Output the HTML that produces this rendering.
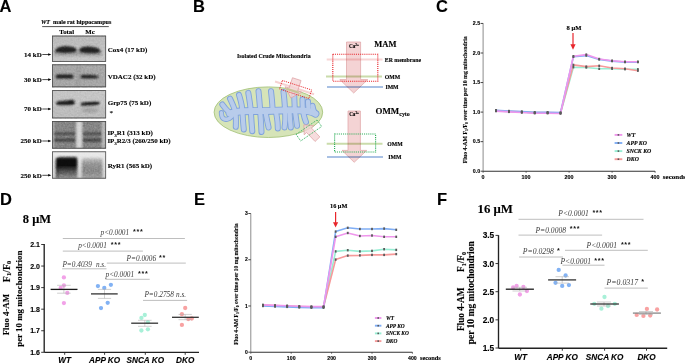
<!DOCTYPE html>
<html><head><meta charset="utf-8"><style>
html,body{margin:0;padding:0;background:#fff;}
body{width:685px;height:364px;overflow:hidden;font-family:"Liberation Sans",sans-serif;}
svg{display:block;will-change:transform;}
text{stroke:#000;stroke-width:0.22px;stroke-opacity:0.55;}
</style></head><body>
<svg width="685" height="364" viewBox="0 0 685 364">
<defs>
<clipPath id="blotclip"><rect x="52" y="35.7" width="54" height="26.1"/><rect x="52" y="64.4" width="54" height="22.8"/><rect x="52" y="90.2" width="54" height="28.1"/><rect x="52" y="121.1" width="54" height="27.5"/><rect x="52" y="151.4" width="54" height="27.2"/></clipPath>
<filter id="noise" x="0" y="0" width="100%" height="100%" color-interpolation-filters="sRGB"><feTurbulence type="fractalNoise" baseFrequency="0.55" numOctaves="2" seed="3"/><feColorMatrix type="matrix" values="0.33 0.33 0.33 0 0  0.33 0.33 0.33 0 0  0.33 0.33 0.33 0 0  0 0 0 0 1"/></filter>
<filter id="blur1" x="-20%" y="-50%" width="140%" height="200%"><feGaussianBlur stdDeviation="0.9"/></filter>
<linearGradient id="g1" x1="0" y1="0" x2="0" y2="1"><stop offset="0" stop-color="#bababa"/><stop offset="1" stop-color="#c6c6c6"/></linearGradient>
<linearGradient id="g5" x1="0" y1="0" x2="0" y2="1"><stop offset="0" stop-color="#ececec"/><stop offset="0.5" stop-color="#dedede"/><stop offset="1" stop-color="#d0d0d0"/></linearGradient>
<linearGradient id="g6" x1="0" y1="0" x2="0" y2="1"><stop offset="0" stop-color="#2a2a2a"/><stop offset="0.15" stop-color="#0c0c0c"/><stop offset="0.4" stop-color="#101010"/><stop offset="0.62" stop-color="#4a4a4a"/><stop offset="0.85" stop-color="#7c7c7c"/><stop offset="1" stop-color="#a0a0a0"/></linearGradient>
<linearGradient id="g7" x1="0" y1="0" x2="0" y2="1"><stop offset="0" stop-color="#c4c4c4"/><stop offset="0.3" stop-color="#929292"/><stop offset="0.65" stop-color="#888888"/><stop offset="1" stop-color="#a4a4a4"/></linearGradient>
</defs>
<text x="-0.5" y="11.8" font-family="Liberation Sans" font-size="16.5" font-weight="bold" font-style="normal" text-anchor="start" fill="#000" >A</text>
<text x="193" y="12" font-family="Liberation Sans" font-size="16.5" font-weight="bold" font-style="normal" text-anchor="start" fill="#000" >B</text>
<text x="436" y="12.1" font-family="Liberation Sans" font-size="16.5" font-weight="bold" font-style="normal" text-anchor="start" fill="#000" >C</text>
<text x="0" y="204.8" font-family="Liberation Sans" font-size="16.5" font-weight="bold" font-style="normal" text-anchor="start" fill="#000" >D</text>
<text x="194" y="204.8" font-family="Liberation Sans" font-size="16.5" font-weight="bold" font-style="normal" text-anchor="start" fill="#000" >E</text>
<text x="437" y="204.8" font-family="Liberation Sans" font-size="16.5" font-weight="bold" font-style="normal" text-anchor="start" fill="#000" >F</text>
<text x="40.9" y="24.3" font-family="Liberation Serif" font-size="6.1" font-weight="bold"><tspan font-style="italic">WT</tspan>&#160; male rat hippocampus</text>
<line x1="42.2" y1="26.6" x2="108.8" y2="26.6" stroke="#222" stroke-width="0.8" />
<text x="59.3" y="34.3" font-family="Liberation Serif" font-size="6.8" font-weight="bold" font-style="normal" text-anchor="start" fill="#000" >Total</text>
<text x="85.3" y="34.3" font-family="Liberation Serif" font-size="6.8" font-weight="bold" font-style="normal" text-anchor="start" fill="#000" >Mc</text>
<rect x="52" y="35.7" width="54" height="26.1" fill="url(#g1)"/>
<rect x="52" y="64.4" width="54" height="22.8" fill="#a7a7a7"/>
<rect x="52" y="90.2" width="54" height="28.1" fill="#c5c5c5"/>
<rect x="52" y="121.1" width="54" height="27.5" fill="#858585"/>
<rect x="52" y="151.4" width="54" height="27.2" fill="url(#g5)"/>
<g clip-path="url(#blotclip)"><g filter="url(#blur1)">
<rect x="54" y="50" width="48" height="6" fill="#8a8a8a" opacity="0.55"/>
<path d="M55 51.6 C55 48 60 46.4 66 46.3 C72 46.3 76.8 47.6 76.8 50.6 C76.8 52.8 73 53.2 66 53.2 C59 53.2 55 53.4 55 51.6 Z" fill="#242424"/>
<path d="M79.2 50.5 C79.2 47.4 83 46.4 89 46.5 C95 46.8 100.6 48.6 100.6 51.4 C100.6 53.3 95 53.5 89 53.4 C83 53.4 79.2 53 79.2 50.5 Z" fill="#222"/>
<rect x="77" y="64.4" width="3" height="22.8" fill="#9c9c9c"/>
<rect x="55.8" y="74.6" width="17.8" height="4" rx="2" fill="#1f1f1f"/>
<path d="M80 76.5 C80 74.6 84 74.6 89 74.8 C94 75 99 75.6 99 77 C99 78.4 94 78.6 89 78.6 C84 78.6 80 78.4 80 76.5 Z" fill="#242424"/>
<path d="M56 103.3 C56 101.3 60 100.8 65 100.7 C69 100.6 71 99.2 73 99.9 C75.2 100.8 75.2 103.6 74 104.8 C72 105.6 66 105.6 61 105.6 C57.5 105.6 56 104.8 56 103.3 Z" fill="#1a1a1a"/>
<path d="M80.5 104.5 C80.5 102.5 84 102.3 90 102 C95 101.8 98 101.2 99.5 102.5 C100.5 104 99 105.3 96 105.4 C90 105.6 84 106.3 82 106.2 C80.8 106 80.5 105.4 80.5 104.5 Z" fill="#151515"/>
<rect x="52" y="106" width="54" height="12" fill="#b8b8b8" opacity="0.6"/>
<ellipse cx="90" cy="110.4" rx="8.5" ry="2.6" fill="#a4a4a4"/>
<rect x="52" y="121" width="1.8" height="27.6" fill="#c4c4c4"/>
<rect x="101.8" y="121" width="3.6" height="27.6" fill="#bdbdbd"/>
<rect x="53.5" y="132.3" width="23" height="3" fill="#4e4e4e"/>
<rect x="82" y="132.3" width="20" height="3" fill="#4e4e4e"/>
<rect x="53.5" y="138.5" width="23" height="3.3" fill="#444"/>
<rect x="82" y="138.5" width="20" height="3.3" fill="#444"/>
<rect x="76.2" y="121" width="6" height="27.6" fill="#d6d6d6"/>
<path d="M55.8 160 C55.8 157.5 58 157 62 157 L75 157 C77 157 77.3 158 77.3 160 L77.3 179 L55.8 179 Z" fill="url(#g6)"/>
<rect x="56" y="158" width="2.2" height="20" fill="#000" opacity="0.35"/>
<path d="M81.8 160 C81.8 158.5 83 158 85 158 L100 158 C102 158 102.4 159 102.4 160.5 L102.4 179 L81.8 179 Z" fill="url(#g7)"/>
</g></g>
<rect x="52" y="35.7" width="54" height="26.099999999999994" fill="#808080" filter="url(#noise)" opacity="0.35" style="mix-blend-mode:overlay"/>
<rect x="52" y="64.4" width="54" height="22.799999999999997" fill="#808080" filter="url(#noise)" opacity="0.35" style="mix-blend-mode:overlay"/>
<rect x="52" y="90.2" width="54" height="28.099999999999994" fill="#808080" filter="url(#noise)" opacity="0.35" style="mix-blend-mode:overlay"/>
<rect x="52" y="121.1" width="54" height="27.5" fill="#808080" filter="url(#noise)" opacity="0.35" style="mix-blend-mode:overlay"/>
<rect x="52" y="151.4" width="54" height="27.19999999999999" fill="#808080" filter="url(#noise)" opacity="0.35" style="mix-blend-mode:overlay"/>
<rect x="52.4" y="36.1" width="53.3" height="25.299999999999994" fill="none" stroke="#4a4a4a" stroke-width="0.8"/>
<rect x="52.4" y="64.80000000000001" width="53.3" height="21.999999999999996" fill="none" stroke="#4a4a4a" stroke-width="0.8"/>
<rect x="52.4" y="90.60000000000001" width="53.3" height="27.299999999999994" fill="none" stroke="#4a4a4a" stroke-width="0.8"/>
<rect x="52.4" y="121.5" width="53.3" height="26.7" fill="none" stroke="#4a4a4a" stroke-width="0.8"/>
<rect x="52.4" y="151.8" width="53.3" height="26.399999999999988" fill="none" stroke="#4a4a4a" stroke-width="0.8"/>
<text x="41.8" y="56.9" font-family="Liberation Serif" font-size="7" font-weight="bold" font-style="normal" text-anchor="end" fill="#000" >14 kD</text>
<line x1="42.3" y1="54.5" x2="49.5" y2="54.5" stroke="#000" stroke-width="0.7" />
<path d="M48.2 53.2 L51.3 54.5 L48.2 55.8 Z" fill="#000"/>
<text x="41.8" y="82.0" font-family="Liberation Serif" font-size="7" font-weight="bold" font-style="normal" text-anchor="end" fill="#000" >30 kD</text>
<line x1="42.3" y1="79.6" x2="49.5" y2="79.6" stroke="#000" stroke-width="0.7" />
<path d="M48.2 78.3 L51.3 79.6 L48.2 80.89999999999999 Z" fill="#000"/>
<text x="41.8" y="111.4" font-family="Liberation Serif" font-size="7" font-weight="bold" font-style="normal" text-anchor="end" fill="#000" >70 kD</text>
<line x1="42.3" y1="109" x2="49.5" y2="109" stroke="#000" stroke-width="0.7" />
<path d="M48.2 107.7 L51.3 109 L48.2 110.3 Z" fill="#000"/>
<text x="41.8" y="143.4" font-family="Liberation Serif" font-size="7" font-weight="bold" font-style="normal" text-anchor="end" fill="#000" >250 kD</text>
<line x1="42.3" y1="141" x2="49.5" y2="141" stroke="#000" stroke-width="0.7" />
<path d="M48.2 139.7 L51.3 141 L48.2 142.3 Z" fill="#000"/>
<text x="41.8" y="177.70000000000002" font-family="Liberation Serif" font-size="7" font-weight="bold" font-style="normal" text-anchor="end" fill="#000" >250 kD</text>
<line x1="42.3" y1="175.3" x2="49.5" y2="175.3" stroke="#000" stroke-width="0.7" />
<path d="M48.2 174.0 L51.3 175.3 L48.2 176.60000000000002 Z" fill="#000"/>
<text x="107.7" y="51.6" font-family="Liberation Serif" font-size="7" font-weight="bold" font-style="normal" text-anchor="start" fill="#000" >Cox4 (17 kD)</text>
<text x="107.7" y="79" font-family="Liberation Serif" font-size="7" font-weight="bold" font-style="normal" text-anchor="start" fill="#000" >VDAC2 (32 kD)</text>
<text x="107.7" y="105.4" font-family="Liberation Serif" font-size="7" font-weight="bold" font-style="normal" text-anchor="start" fill="#000" >Grp75 (75 kD)</text>
<text x="109.5" y="114.5" font-family="Liberation Serif" font-size="7" font-weight="normal" font-style="normal" text-anchor="start" fill="#000" >*</text>
<text x="107.4" y="135.2" font-family="Liberation Serif" font-size="7" font-weight="bold">IP<tspan font-size="4.5" dy="1.5">3</tspan><tspan dy="-1.5">R1 (313 kD)</tspan></text>
<text x="107.4" y="143.4" font-family="Liberation Serif" font-size="7" font-weight="bold">IP<tspan font-size="4.5" dy="1.5">3</tspan><tspan dy="-1.5">R2/3 (260/250 kD)</tspan></text>
<text x="107.7" y="168.3" font-family="Liberation Serif" font-size="7" font-weight="bold" font-style="normal" text-anchor="start" fill="#000" >RyR1 (565 kD)</text>
<text x="237" y="58.2" font-family="Liberation Serif" font-size="5.9" font-weight="bold" font-style="normal" text-anchor="start" fill="#000" >Isolated Crude Mitochondria</text>
<ellipse cx="268.4" cy="112.2" rx="54.3" ry="25.3" fill="#d6e4b8" stroke="#9fbf72" stroke-width="0.8"/>
<g>
<path d="M229.5 113.5 Q235 111.5 242.50 111.25 Q250 111 257.50 111.10 Q265 111.2 272.50 110.85 Q280 110.5 287.50 110.35 Q295 110.2 300.00 110.40 Q305 110.6 308.50 111.30 Q312 112 313.75 112.90 L315.5 113.8" stroke="#7fa2dc" stroke-width="7.8" fill="none" stroke-linecap="round" stroke-linejoin="round"/>
<path d="M221.4 112.6 Q221.6 117.2 223.20 118.40 Q224.8 119.6 227.15 119.20 Q229.5 118.8 231.00 117.15 L232.5 115.5" stroke="#7fa2dc" stroke-width="5.2" fill="none" stroke-linecap="round" stroke-linejoin="round"/>
<path d="M222.3 104.4 Q226.0 109.5 228.50 111.65 L231.0 113.8" stroke="#7fa2dc" stroke-width="6.0" fill="none" stroke-linecap="round" stroke-linejoin="round"/>
<path d="M230.0 98.6 Q233.0 105 234.25 108.50 Q235.5 112 235.75 116.00 Q236.0 120 235.90 123.40 L235.8 126.8" stroke="#7fa2dc" stroke-width="6.0" fill="none" stroke-linecap="round" stroke-linejoin="round"/>
<path d="M239.0 94.9 Q241.5 103 242.00 107.50 Q242.5 112 242.75 116.50 Q243.0 121 243.40 125.25 L243.8 129.5" stroke="#7fa2dc" stroke-width="6.0" fill="none" stroke-linecap="round" stroke-linejoin="round"/>
<path d="M248.3 92.9 Q250.0 103 250.50 108.00 Q251.0 113 251.25 117.50 Q251.5 122 251.90 126.60 L252.3 131.2" stroke="#7fa2dc" stroke-width="6.0" fill="none" stroke-linecap="round" stroke-linejoin="round"/>
<path d="M258.5 91.2 Q259.5 101 259.85 106.50 Q260.2 112 260.60 117.00 Q261.0 122 261.25 127.00 L261.5 132.0" stroke="#7fa2dc" stroke-width="6.0" fill="none" stroke-linecap="round" stroke-linejoin="round"/>
<path d="M271.0 91.2 Q272.0 100 272.25 104.00 L272.5 108" stroke="#7fa2dc" stroke-width="6.0" fill="none" stroke-linecap="round" stroke-linejoin="round"/>
<path d="M265.5 112 Q267.0 120 267.80 123.75 L268.6 127.5" stroke="#7fa2dc" stroke-width="6.0" fill="none" stroke-linecap="round" stroke-linejoin="round"/>
<path d="M283.5 92.0 Q284.5 100 284.75 105.00 Q285.0 110 285.25 115.00 Q285.5 120 285.00 123.75 L284.5 127.5" stroke="#7fa2dc" stroke-width="6.0" fill="none" stroke-linecap="round" stroke-linejoin="round"/>
<path d="M276.0 112 Q277.5 120 277.65 124.25 L277.8 128.5" stroke="#7fa2dc" stroke-width="6.0" fill="none" stroke-linecap="round" stroke-linejoin="round"/>
<path d="M294.2 95.5 Q294.5 103 294.65 106.50 Q294.8 110 295.40 114.00 Q296.0 118 296.50 121.90 L297.0 125.8" stroke="#7fa2dc" stroke-width="6.0" fill="none" stroke-linecap="round" stroke-linejoin="round"/>
<path d="M302.5 99.3 Q302.5 105 302.75 108.00 Q303.0 111 303.75 114.50 Q304.5 118 305.25 120.00 L306.0 122.0" stroke="#7fa2dc" stroke-width="6.0" fill="none" stroke-linecap="round" stroke-linejoin="round"/>
<path d="M308.0 101.6 Q308.2 106 308.60 109.00 L309.0 112" stroke="#7fa2dc" stroke-width="6.0" fill="none" stroke-linecap="round" stroke-linejoin="round"/>
<path d="M312.5 105.8 Q313.2 110 314.20 111.80 L315.2 113.6" stroke="#7fa2dc" stroke-width="6.0" fill="none" stroke-linecap="round" stroke-linejoin="round"/>
<path d="M289.5 112 Q290.0 120 290.40 123.75 L290.8 127.5" stroke="#7fa2dc" stroke-width="6.0" fill="none" stroke-linecap="round" stroke-linejoin="round"/>
<path d="M229.5 113.5 Q235 111.5 242.50 111.25 Q250 111 257.50 111.10 Q265 111.2 272.50 110.85 Q280 110.5 287.50 110.35 Q295 110.2 300.00 110.40 Q305 110.6 308.50 111.30 Q312 112 313.75 112.90 L315.5 113.8" stroke="#b8cceb" stroke-width="6.0" fill="none" stroke-linecap="round" stroke-linejoin="round"/>
<path d="M221.4 112.6 Q221.6 117.2 223.20 118.40 Q224.8 119.6 227.15 119.20 Q229.5 118.8 231.00 117.15 L232.5 115.5" stroke="#b8cceb" stroke-width="3.4" fill="none" stroke-linecap="round" stroke-linejoin="round"/>
<path d="M222.3 104.4 Q226.0 109.5 228.50 111.65 L231.0 113.8" stroke="#b8cceb" stroke-width="4.2" fill="none" stroke-linecap="round" stroke-linejoin="round"/>
<path d="M230.0 98.6 Q233.0 105 234.25 108.50 Q235.5 112 235.75 116.00 Q236.0 120 235.90 123.40 L235.8 126.8" stroke="#b8cceb" stroke-width="4.2" fill="none" stroke-linecap="round" stroke-linejoin="round"/>
<path d="M239.0 94.9 Q241.5 103 242.00 107.50 Q242.5 112 242.75 116.50 Q243.0 121 243.40 125.25 L243.8 129.5" stroke="#b8cceb" stroke-width="4.2" fill="none" stroke-linecap="round" stroke-linejoin="round"/>
<path d="M248.3 92.9 Q250.0 103 250.50 108.00 Q251.0 113 251.25 117.50 Q251.5 122 251.90 126.60 L252.3 131.2" stroke="#b8cceb" stroke-width="4.2" fill="none" stroke-linecap="round" stroke-linejoin="round"/>
<path d="M258.5 91.2 Q259.5 101 259.85 106.50 Q260.2 112 260.60 117.00 Q261.0 122 261.25 127.00 L261.5 132.0" stroke="#b8cceb" stroke-width="4.2" fill="none" stroke-linecap="round" stroke-linejoin="round"/>
<path d="M271.0 91.2 Q272.0 100 272.25 104.00 L272.5 108" stroke="#b8cceb" stroke-width="4.2" fill="none" stroke-linecap="round" stroke-linejoin="round"/>
<path d="M265.5 112 Q267.0 120 267.80 123.75 L268.6 127.5" stroke="#b8cceb" stroke-width="4.2" fill="none" stroke-linecap="round" stroke-linejoin="round"/>
<path d="M283.5 92.0 Q284.5 100 284.75 105.00 Q285.0 110 285.25 115.00 Q285.5 120 285.00 123.75 L284.5 127.5" stroke="#b8cceb" stroke-width="4.2" fill="none" stroke-linecap="round" stroke-linejoin="round"/>
<path d="M276.0 112 Q277.5 120 277.65 124.25 L277.8 128.5" stroke="#b8cceb" stroke-width="4.2" fill="none" stroke-linecap="round" stroke-linejoin="round"/>
<path d="M294.2 95.5 Q294.5 103 294.65 106.50 Q294.8 110 295.40 114.00 Q296.0 118 296.50 121.90 L297.0 125.8" stroke="#b8cceb" stroke-width="4.2" fill="none" stroke-linecap="round" stroke-linejoin="round"/>
<path d="M302.5 99.3 Q302.5 105 302.75 108.00 Q303.0 111 303.75 114.50 Q304.5 118 305.25 120.00 L306.0 122.0" stroke="#b8cceb" stroke-width="4.2" fill="none" stroke-linecap="round" stroke-linejoin="round"/>
<path d="M308.0 101.6 Q308.2 106 308.60 109.00 L309.0 112" stroke="#b8cceb" stroke-width="4.2" fill="none" stroke-linecap="round" stroke-linejoin="round"/>
<path d="M312.5 105.8 Q313.2 110 314.20 111.80 L315.2 113.6" stroke="#b8cceb" stroke-width="4.2" fill="none" stroke-linecap="round" stroke-linejoin="round"/>
<path d="M289.5 112 Q290.0 120 290.40 123.75 L290.8 127.5" stroke="#b8cceb" stroke-width="4.2" fill="none" stroke-linecap="round" stroke-linejoin="round"/>
</g>
<g transform="translate(295.6 89.5) rotate(18)">
<line x1="-22" y1="-1.2" x2="19" y2="-1.2" stroke="#f6d2d2" stroke-width="2"/>
<path d="M-6.6 -10.2 L2.4 -10.2 L2.4 0.6 L6.8 0.6 L-2.0 9.6 L-10.8 0.6 L-6.6 0.6 Z" fill="#f4d3d4" fill-opacity="0.8" stroke="#dea2a4" stroke-width="0.7" stroke-linejoin="miter"/>
<line x1="-9" y1="2.1" x2="4" y2="2.1" stroke="#c8c496" stroke-width="2"/>
<rect x="-15.4" y="-4.5" width="30.8" height="9" fill="none" stroke="#e8262c" stroke-width="0.9" stroke-dasharray="1 1"/>
</g>
<g transform="translate(309 130.25) rotate(136.6)">
<path d="M-3.3 -12.3 L3.3 -12.3 L3.3 0 L6.6 0 L0 7.5 L-6.6 0 L-3.3 0 Z" fill="#f4d3d4" fill-opacity="0.8" stroke="#dea2a4" stroke-width="0.7" stroke-linejoin="miter"/>
</g>
<g transform="translate(308.9 130.45) rotate(-34.6)">
<rect x="-12.75" y="-4.0" width="25.5" height="8.0" fill="none" stroke="#2fb05a" stroke-width="0.9" stroke-dasharray="1 1"/>
</g>
<path d="M346.5 42 L360.6 42 L360.6 79.6 L367.7 79.6 L353.7 93 L339.8 79.6 L346.5 79.6 Z" fill="#f4d3d4" fill-opacity="1" stroke="#dea2a4" stroke-width="0.7" stroke-linejoin="miter"/>
<line x1="326.7" y1="59.5" x2="382.5" y2="59.5" stroke="#f8d6d6" stroke-width="2" style="mix-blend-mode:multiply"/>
<line x1="326" y1="76.6" x2="382" y2="76.6" stroke="#cadcab" stroke-width="2" style="mix-blend-mode:multiply"/>
<line x1="327" y1="87" x2="383" y2="87" stroke="#a9c1e4" stroke-width="2" style="mix-blend-mode:multiply"/>
<rect x="332.8" y="54.2" width="45" height="27" fill="none" stroke="#e8262c" stroke-width="1.15" stroke-dasharray="1.1 1.0"/>
<text x="349" y="47.6" font-family="Liberation Serif" font-size="5.1" font-weight="bold">Ca<tspan font-size="3.4" dy="-1.7">2+</tspan></text>
<text x="374.3" y="46.9" font-family="Liberation Serif" font-size="8.5" font-weight="bold" font-style="normal" text-anchor="start" fill="#000" >MAM</text>
<text x="384.8" y="62" font-family="Liberation Serif" font-size="5.8" font-weight="bold" font-style="normal" text-anchor="start" fill="#000" >ER membrane</text>
<text x="384.8" y="78.8" font-family="Liberation Serif" font-size="5.8" font-weight="bold" font-style="normal" text-anchor="start" fill="#000" >OMM</text>
<text x="385.4" y="89.3" font-family="Liberation Serif" font-size="5.8" font-weight="bold" font-style="normal" text-anchor="start" fill="#000" >IMM</text>
<path d="M348 111 L360.4 111 L360.4 150.4 L366.7 150.4 L354.2 162.3 L342 150.4 L348 150.4 Z" fill="#f4d3d4" fill-opacity="1" stroke="#dea2a4" stroke-width="0.7" stroke-linejoin="miter"/>
<line x1="326.7" y1="143.8" x2="382.5" y2="143.8" stroke="#cadcab" stroke-width="2" style="mix-blend-mode:multiply"/>
<line x1="327" y1="157" x2="383" y2="157" stroke="#a9c1e4" stroke-width="2" style="mix-blend-mode:multiply"/>
<rect x="334.6" y="134" width="41" height="18" fill="none" stroke="#2fb05a" stroke-width="1.15" stroke-dasharray="1.1 1.0"/>
<text x="349.2" y="116" font-family="Liberation Serif" font-size="5.1" font-weight="bold">Ca<tspan font-size="3.4" dy="-1.7">2+</tspan></text>
<text x="375.6" y="114.2" font-family="Liberation Serif" font-size="8.9" font-weight="bold">OMM<tspan font-size="5.9" dy="1.8">cyto</tspan></text>
<text x="387.3" y="146" font-family="Liberation Serif" font-size="5.8" font-weight="bold" font-style="normal" text-anchor="start" fill="#000" >OMM</text>
<text x="388.3" y="159.3" font-family="Liberation Serif" font-size="5.8" font-weight="bold" font-style="normal" text-anchor="start" fill="#000" >IMM</text>
<line x1="483.1" y1="23.2" x2="483.1" y2="171.2" stroke="#8c8c8c" stroke-width="1.0" />
<line x1="483.1" y1="171.2" x2="655.1" y2="171.2" stroke="#333" stroke-width="1.1" />
<line x1="480.6" y1="171.2" x2="483.1" y2="171.2" stroke="#333" stroke-width="0.9" />
<text x="480.20000000000005" y="172.94899999999998" font-family="Liberation Sans" font-size="5.3" font-weight="bold" font-style="normal" text-anchor="end" fill="#000" >0.0</text>
<line x1="480.6" y1="141.64999999999998" x2="483.1" y2="141.64999999999998" stroke="#333" stroke-width="0.9" />
<text x="480.20000000000005" y="143.39899999999997" font-family="Liberation Sans" font-size="5.3" font-weight="bold" font-style="normal" text-anchor="end" fill="#000" >0.5</text>
<line x1="480.6" y1="112.1" x2="483.1" y2="112.1" stroke="#333" stroke-width="0.9" />
<text x="480.20000000000005" y="113.84899999999999" font-family="Liberation Sans" font-size="5.3" font-weight="bold" font-style="normal" text-anchor="end" fill="#000" >1.0</text>
<line x1="480.6" y1="82.54999999999998" x2="483.1" y2="82.54999999999998" stroke="#333" stroke-width="0.9" />
<text x="480.20000000000005" y="84.29899999999998" font-family="Liberation Sans" font-size="5.3" font-weight="bold" font-style="normal" text-anchor="end" fill="#000" >1.5</text>
<line x1="480.6" y1="52.999999999999986" x2="483.1" y2="52.999999999999986" stroke="#333" stroke-width="0.9" />
<text x="480.20000000000005" y="54.74899999999999" font-family="Liberation Sans" font-size="5.3" font-weight="bold" font-style="normal" text-anchor="end" fill="#000" >2.0</text>
<line x1="480.6" y1="23.44999999999999" x2="483.1" y2="23.44999999999999" stroke="#333" stroke-width="0.9" />
<text x="480.20000000000005" y="25.198999999999987" font-family="Liberation Sans" font-size="5.3" font-weight="bold" font-style="normal" text-anchor="end" fill="#000" >2.5</text>
<line x1="483.1" y1="171.2" x2="483.1" y2="172.7" stroke="#333" stroke-width="0.8" />
<line x1="526.1" y1="171.2" x2="526.1" y2="172.7" stroke="#333" stroke-width="0.8" />
<line x1="569.1" y1="171.2" x2="569.1" y2="172.7" stroke="#333" stroke-width="0.8" />
<line x1="612.1" y1="171.2" x2="612.1" y2="172.7" stroke="#333" stroke-width="0.8" />
<line x1="655.1" y1="171.2" x2="655.1" y2="172.7" stroke="#333" stroke-width="0.8" />
<polyline points="496.00,110.80 508.90,111.60 521.80,112.20 534.70,112.90 547.60,112.90 560.50,113.20 573.40,67.20 586.30,67.50 599.20,68.80 612.10,68.70 625.00,69.20 637.90,69.30" fill="none" stroke="#98eed4" stroke-width="1.6" stroke-linejoin="round"/>
<polyline points="496.00,110.50 508.90,111.30 521.80,111.90 534.70,112.60 547.60,112.60 560.50,112.90 573.40,64.90 586.30,66.60 599.20,65.80 612.10,68.00 625.00,68.70 637.90,70.70" fill="none" stroke="#f69a9a" stroke-width="1.6" stroke-linejoin="round"/>
<polyline points="496.00,110.20 508.90,111.00 521.80,111.60 534.70,112.30 547.60,112.30 560.50,112.60 573.40,56.80 586.30,55.60 599.20,59.40 612.10,61.10 625.00,62.10 637.90,62.10" fill="none" stroke="#80aef5" stroke-width="1.6" stroke-linejoin="round"/>
<polyline points="496.00,111.10 508.90,111.90 521.80,112.50 534.70,113.20 547.60,113.20 560.50,113.50 573.40,56.20 586.30,54.60 599.20,59.00 612.10,60.70 625.00,61.70 637.90,61.70" fill="none" stroke="#ef96ec" stroke-width="1.6" stroke-linejoin="round"/>
<rect x="495.10" y="109.60" width="1.8" height="2.4" fill="#5a5a5a"/>
<rect x="508.00" y="110.40" width="1.8" height="2.4" fill="#5a5a5a"/>
<rect x="520.90" y="111.00" width="1.8" height="2.4" fill="#5a5a5a"/>
<rect x="533.80" y="111.70" width="1.8" height="2.4" fill="#5a5a5a"/>
<rect x="546.70" y="111.70" width="1.8" height="2.4" fill="#5a5a5a"/>
<rect x="559.60" y="112.00" width="1.8" height="2.4" fill="#5a5a5a"/>
<rect x="572.50" y="66.00" width="1.8" height="2.4" fill="#5a5a5a"/>
<rect x="585.40" y="66.30" width="1.8" height="2.4" fill="#5a5a5a"/>
<rect x="598.30" y="67.60" width="1.8" height="2.4" fill="#5a5a5a"/>
<rect x="611.20" y="67.50" width="1.8" height="2.4" fill="#5a5a5a"/>
<rect x="624.10" y="68.00" width="1.8" height="2.4" fill="#5a5a5a"/>
<rect x="637.00" y="68.10" width="1.8" height="2.4" fill="#5a5a5a"/>
<rect x="495.10" y="109.30" width="1.8" height="2.4" fill="#5a5a5a"/>
<rect x="508.00" y="110.10" width="1.8" height="2.4" fill="#5a5a5a"/>
<rect x="520.90" y="110.70" width="1.8" height="2.4" fill="#5a5a5a"/>
<rect x="533.80" y="111.40" width="1.8" height="2.4" fill="#5a5a5a"/>
<rect x="546.70" y="111.40" width="1.8" height="2.4" fill="#5a5a5a"/>
<rect x="559.60" y="111.70" width="1.8" height="2.4" fill="#5a5a5a"/>
<rect x="572.50" y="63.70" width="1.8" height="2.4" fill="#5a5a5a"/>
<rect x="585.40" y="65.40" width="1.8" height="2.4" fill="#5a5a5a"/>
<rect x="598.30" y="64.60" width="1.8" height="2.4" fill="#5a5a5a"/>
<rect x="611.20" y="66.80" width="1.8" height="2.4" fill="#5a5a5a"/>
<rect x="624.10" y="67.50" width="1.8" height="2.4" fill="#5a5a5a"/>
<rect x="637.00" y="69.50" width="1.8" height="2.4" fill="#5a5a5a"/>
<rect x="495.10" y="109.00" width="1.8" height="2.4" fill="#5a5a5a"/>
<rect x="508.00" y="109.80" width="1.8" height="2.4" fill="#5a5a5a"/>
<rect x="520.90" y="110.40" width="1.8" height="2.4" fill="#5a5a5a"/>
<rect x="533.80" y="111.10" width="1.8" height="2.4" fill="#5a5a5a"/>
<rect x="546.70" y="111.10" width="1.8" height="2.4" fill="#5a5a5a"/>
<rect x="559.60" y="111.40" width="1.8" height="2.4" fill="#5a5a5a"/>
<rect x="572.50" y="55.60" width="1.8" height="2.4" fill="#5a5a5a"/>
<rect x="585.40" y="54.40" width="1.8" height="2.4" fill="#5a5a5a"/>
<rect x="598.30" y="58.20" width="1.8" height="2.4" fill="#5a5a5a"/>
<rect x="611.20" y="59.90" width="1.8" height="2.4" fill="#5a5a5a"/>
<rect x="624.10" y="60.90" width="1.8" height="2.4" fill="#5a5a5a"/>
<rect x="637.00" y="60.90" width="1.8" height="2.4" fill="#5a5a5a"/>
<rect x="495.10" y="109.90" width="1.8" height="2.4" fill="#5a5a5a"/>
<rect x="508.00" y="110.70" width="1.8" height="2.4" fill="#5a5a5a"/>
<rect x="520.90" y="111.30" width="1.8" height="2.4" fill="#5a5a5a"/>
<rect x="533.80" y="112.00" width="1.8" height="2.4" fill="#5a5a5a"/>
<rect x="546.70" y="112.00" width="1.8" height="2.4" fill="#5a5a5a"/>
<rect x="559.60" y="112.30" width="1.8" height="2.4" fill="#5a5a5a"/>
<rect x="572.50" y="55.00" width="1.8" height="2.4" fill="#5a5a5a"/>
<rect x="585.40" y="53.40" width="1.8" height="2.4" fill="#5a5a5a"/>
<rect x="598.30" y="57.80" width="1.8" height="2.4" fill="#5a5a5a"/>
<rect x="611.20" y="59.50" width="1.8" height="2.4" fill="#5a5a5a"/>
<rect x="624.10" y="60.50" width="1.8" height="2.4" fill="#5a5a5a"/>
<rect x="637.00" y="60.50" width="1.8" height="2.4" fill="#5a5a5a"/>
<text x="483.1" y="179.3" font-family="Liberation Sans" font-size="5.4" font-weight="bold" font-style="normal" text-anchor="middle" fill="#000" >0</text>
<text x="526.1" y="179.3" font-family="Liberation Sans" font-size="5.4" font-weight="bold" font-style="normal" text-anchor="middle" fill="#000" >100</text>
<text x="569.1" y="179.3" font-family="Liberation Sans" font-size="5.4" font-weight="bold" font-style="normal" text-anchor="middle" fill="#000" >200</text>
<text x="612.1" y="179.3" font-family="Liberation Sans" font-size="5.4" font-weight="bold" font-style="normal" text-anchor="middle" fill="#000" >300</text>
<text x="655.1" y="179.3" font-family="Liberation Sans" font-size="5.4" font-weight="bold" font-style="normal" text-anchor="middle" fill="#000" >400</text>
<text x="662.8" y="178.7" font-family="Liberation Serif" font-size="7.0" font-weight="bold" font-style="normal" text-anchor="start" fill="#000" >seconds</text>
<text x="566.6" y="29.8" font-family="Liberation Serif" font-size="6.6" font-weight="bold" font-style="normal" text-anchor="start" fill="#000" >8 μM</text>
<line x1="573" y1="33.1" x2="573" y2="45" stroke="#e8262c" stroke-width="1.2" />
<path d="M570.4 44.2 L575.6 44.2 L573 49.8 Z" fill="#e8262c"/>
<line x1="614.6" y1="134.9" x2="622.3" y2="134.9" stroke="#ef96ec" stroke-width="1.9" />
<rect x="617.6" y="134.1" width="1.6" height="1.6" fill="#5a5a5a"/>
<text x="626.6" y="136.9" font-family="Liberation Serif" font-size="5.8" font-weight="bold" font-style="italic" text-anchor="start" fill="#000" >WT</text>
<line x1="614.6" y1="143.0" x2="622.3" y2="143.0" stroke="#80aef5" stroke-width="1.9" />
<rect x="617.6" y="142.2" width="1.6" height="1.6" fill="#5a5a5a"/>
<text x="626.6" y="145.0" font-family="Liberation Serif" font-size="5.8" font-weight="bold" font-style="italic" text-anchor="start" fill="#000" >APP KO</text>
<line x1="614.6" y1="151.1" x2="622.3" y2="151.1" stroke="#98eed4" stroke-width="1.9" />
<rect x="617.6" y="150.29999999999998" width="1.6" height="1.6" fill="#5a5a5a"/>
<text x="626.6" y="153.1" font-family="Liberation Serif" font-size="5.8" font-weight="bold" font-style="italic" text-anchor="start" fill="#000" >SNCK KO</text>
<line x1="614.6" y1="159.2" x2="622.3" y2="159.2" stroke="#f69a9a" stroke-width="1.9" />
<rect x="617.6" y="158.39999999999998" width="1.6" height="1.6" fill="#5a5a5a"/>
<text x="626.6" y="161.2" font-family="Liberation Serif" font-size="5.8" font-weight="bold" font-style="italic" text-anchor="start" fill="#000" >DKO</text>
<text transform="translate(466.6 163.2) rotate(-90)" font-family="Liberation Serif" font-size="5.8" font-weight="bold">Fluo 4-AM  F<tspan font-size="3.8" dy="1">1</tspan><tspan dy="-1">/F</tspan><tspan font-size="3.8" dy="1">0</tspan><tspan dy="-1"> over time per 10 mg mitochondria</tspan></text>
<line x1="250.8" y1="213.5" x2="250.8" y2="352.2" stroke="#8c8c8c" stroke-width="1.0" />
<line x1="250.8" y1="352.2" x2="412.4" y2="352.2" stroke="#333" stroke-width="1.1" />
<line x1="248.3" y1="352.2" x2="250.8" y2="352.2" stroke="#333" stroke-width="0.9" />
<text x="247.9" y="353.84999999999997" font-family="Liberation Sans" font-size="5.0" font-weight="bold" font-style="normal" text-anchor="end" fill="#000" >0</text>
<line x1="248.3" y1="305.96999999999997" x2="250.8" y2="305.96999999999997" stroke="#333" stroke-width="0.9" />
<text x="247.9" y="307.61999999999995" font-family="Liberation Sans" font-size="5.0" font-weight="bold" font-style="normal" text-anchor="end" fill="#000" >1</text>
<line x1="248.3" y1="259.74" x2="250.8" y2="259.74" stroke="#333" stroke-width="0.9" />
<text x="247.9" y="261.39" font-family="Liberation Sans" font-size="5.0" font-weight="bold" font-style="normal" text-anchor="end" fill="#000" >2</text>
<line x1="248.3" y1="213.51" x2="250.8" y2="213.51" stroke="#333" stroke-width="0.9" />
<text x="247.9" y="215.16" font-family="Liberation Sans" font-size="5.0" font-weight="bold" font-style="normal" text-anchor="end" fill="#000" >3</text>
<line x1="250.8" y1="352.2" x2="250.8" y2="353.7" stroke="#333" stroke-width="0.8" />
<line x1="291.20000000000005" y1="352.2" x2="291.20000000000005" y2="353.7" stroke="#333" stroke-width="0.8" />
<line x1="331.6" y1="352.2" x2="331.6" y2="353.7" stroke="#333" stroke-width="0.8" />
<line x1="372.0" y1="352.2" x2="372.0" y2="353.7" stroke="#333" stroke-width="0.8" />
<line x1="412.40000000000003" y1="352.2" x2="412.40000000000003" y2="353.7" stroke="#333" stroke-width="0.8" />
<polyline points="262.92,305.50 275.04,306.00 287.16,306.40 299.28,306.90 311.40,307.20 323.52,307.20 335.64,251.40 347.76,250.20 359.88,251.40 372.00,250.90 384.12,249.20 396.24,249.90" fill="none" stroke="#98eed4" stroke-width="1.6" stroke-linejoin="round"/>
<polyline points="262.92,305.10 275.04,305.60 287.16,306.00 299.28,306.50 311.40,306.80 323.52,306.80 335.64,259.60 347.76,255.60 359.88,255.40 372.00,254.90 384.12,254.90 396.24,254.10" fill="none" stroke="#f69a9a" stroke-width="1.6" stroke-linejoin="round"/>
<polyline points="262.92,306.00 275.04,306.50 287.16,306.90 299.28,307.40 311.40,307.70 323.52,307.70 335.64,231.60 347.76,227.80 359.88,229.00 372.00,229.00 384.12,228.60 396.24,229.80" fill="none" stroke="#80aef5" stroke-width="1.6" stroke-linejoin="round"/>
<polyline points="262.92,304.90 275.04,305.40 287.16,305.80 299.28,306.30 311.40,306.60 323.52,306.60 335.64,236.80 347.76,233.00 359.88,236.00 372.00,235.50 384.12,236.80 396.24,236.80" fill="none" stroke="#ef96ec" stroke-width="1.6" stroke-linejoin="round"/>
<rect x="262.02" y="304.30" width="1.8" height="2.4" fill="#5a5a5a"/>
<rect x="274.14" y="304.80" width="1.8" height="2.4" fill="#5a5a5a"/>
<rect x="286.26" y="305.20" width="1.8" height="2.4" fill="#5a5a5a"/>
<rect x="298.38" y="305.70" width="1.8" height="2.4" fill="#5a5a5a"/>
<rect x="310.50" y="306.00" width="1.8" height="2.4" fill="#5a5a5a"/>
<rect x="322.62" y="306.00" width="1.8" height="2.4" fill="#5a5a5a"/>
<rect x="334.74" y="250.20" width="1.8" height="2.4" fill="#5a5a5a"/>
<rect x="346.86" y="249.00" width="1.8" height="2.4" fill="#5a5a5a"/>
<rect x="358.98" y="250.20" width="1.8" height="2.4" fill="#5a5a5a"/>
<rect x="371.10" y="249.70" width="1.8" height="2.4" fill="#5a5a5a"/>
<rect x="383.22" y="248.00" width="1.8" height="2.4" fill="#5a5a5a"/>
<rect x="395.34" y="248.70" width="1.8" height="2.4" fill="#5a5a5a"/>
<rect x="262.02" y="303.90" width="1.8" height="2.4" fill="#5a5a5a"/>
<rect x="274.14" y="304.40" width="1.8" height="2.4" fill="#5a5a5a"/>
<rect x="286.26" y="304.80" width="1.8" height="2.4" fill="#5a5a5a"/>
<rect x="298.38" y="305.30" width="1.8" height="2.4" fill="#5a5a5a"/>
<rect x="310.50" y="305.60" width="1.8" height="2.4" fill="#5a5a5a"/>
<rect x="322.62" y="305.60" width="1.8" height="2.4" fill="#5a5a5a"/>
<rect x="334.74" y="258.40" width="1.8" height="2.4" fill="#5a5a5a"/>
<rect x="346.86" y="254.40" width="1.8" height="2.4" fill="#5a5a5a"/>
<rect x="358.98" y="254.20" width="1.8" height="2.4" fill="#5a5a5a"/>
<rect x="371.10" y="253.70" width="1.8" height="2.4" fill="#5a5a5a"/>
<rect x="383.22" y="253.70" width="1.8" height="2.4" fill="#5a5a5a"/>
<rect x="395.34" y="252.90" width="1.8" height="2.4" fill="#5a5a5a"/>
<rect x="262.02" y="304.80" width="1.8" height="2.4" fill="#5a5a5a"/>
<rect x="274.14" y="305.30" width="1.8" height="2.4" fill="#5a5a5a"/>
<rect x="286.26" y="305.70" width="1.8" height="2.4" fill="#5a5a5a"/>
<rect x="298.38" y="306.20" width="1.8" height="2.4" fill="#5a5a5a"/>
<rect x="310.50" y="306.50" width="1.8" height="2.4" fill="#5a5a5a"/>
<rect x="322.62" y="306.50" width="1.8" height="2.4" fill="#5a5a5a"/>
<rect x="334.74" y="230.40" width="1.8" height="2.4" fill="#5a5a5a"/>
<rect x="346.86" y="226.60" width="1.8" height="2.4" fill="#5a5a5a"/>
<rect x="358.98" y="227.80" width="1.8" height="2.4" fill="#5a5a5a"/>
<rect x="371.10" y="227.80" width="1.8" height="2.4" fill="#5a5a5a"/>
<rect x="383.22" y="227.40" width="1.8" height="2.4" fill="#5a5a5a"/>
<rect x="395.34" y="228.60" width="1.8" height="2.4" fill="#5a5a5a"/>
<rect x="262.02" y="303.70" width="1.8" height="2.4" fill="#5a5a5a"/>
<rect x="274.14" y="304.20" width="1.8" height="2.4" fill="#5a5a5a"/>
<rect x="286.26" y="304.60" width="1.8" height="2.4" fill="#5a5a5a"/>
<rect x="298.38" y="305.10" width="1.8" height="2.4" fill="#5a5a5a"/>
<rect x="310.50" y="305.40" width="1.8" height="2.4" fill="#5a5a5a"/>
<rect x="322.62" y="305.40" width="1.8" height="2.4" fill="#5a5a5a"/>
<rect x="334.74" y="235.60" width="1.8" height="2.4" fill="#5a5a5a"/>
<rect x="346.86" y="231.80" width="1.8" height="2.4" fill="#5a5a5a"/>
<rect x="358.98" y="234.80" width="1.8" height="2.4" fill="#5a5a5a"/>
<rect x="371.10" y="234.30" width="1.8" height="2.4" fill="#5a5a5a"/>
<rect x="383.22" y="235.60" width="1.8" height="2.4" fill="#5a5a5a"/>
<rect x="395.34" y="235.60" width="1.8" height="2.4" fill="#5a5a5a"/>
<text x="250.8" y="360.0" font-family="Liberation Sans" font-size="5.2" font-weight="bold" font-style="normal" text-anchor="middle" fill="#000" >0</text>
<text x="291.20000000000005" y="360.0" font-family="Liberation Sans" font-size="5.2" font-weight="bold" font-style="normal" text-anchor="middle" fill="#000" >100</text>
<text x="331.6" y="360.0" font-family="Liberation Sans" font-size="5.2" font-weight="bold" font-style="normal" text-anchor="middle" fill="#000" >200</text>
<text x="372.0" y="360.0" font-family="Liberation Sans" font-size="5.2" font-weight="bold" font-style="normal" text-anchor="middle" fill="#000" >300</text>
<text x="412.40000000000003" y="360.0" font-family="Liberation Sans" font-size="5.2" font-weight="bold" font-style="normal" text-anchor="middle" fill="#000" >400</text>
<text x="419.9" y="359.8" font-family="Liberation Serif" font-size="6.4" font-weight="bold" font-style="normal" text-anchor="start" fill="#000" >seconds</text>
<text x="330" y="208.2" font-family="Liberation Serif" font-size="6.3" font-weight="bold" font-style="normal" text-anchor="start" fill="#000" >16 μM</text>
<line x1="335.6" y1="212" x2="335.6" y2="223" stroke="#e8262c" stroke-width="1.2" />
<path d="M333 222.2 L338.2 222.2 L335.6 227.6 Z" fill="#e8262c"/>
<line x1="374.9" y1="318.0" x2="381.4" y2="318.0" stroke="#ef96ec" stroke-width="1.9" />
<rect x="377.4" y="317.2" width="1.6" height="1.6" fill="#5a5a5a"/>
<text x="385.9" y="319.9" font-family="Liberation Serif" font-size="5.4" font-weight="bold" font-style="italic" text-anchor="start" fill="#000" >WT</text>
<line x1="374.9" y1="325.7" x2="381.4" y2="325.7" stroke="#80aef5" stroke-width="1.9" />
<rect x="377.4" y="324.9" width="1.6" height="1.6" fill="#5a5a5a"/>
<text x="385.9" y="327.59999999999997" font-family="Liberation Serif" font-size="5.4" font-weight="bold" font-style="italic" text-anchor="start" fill="#000" >APP KO</text>
<line x1="374.9" y1="333.4" x2="381.4" y2="333.4" stroke="#98eed4" stroke-width="1.9" />
<rect x="377.4" y="332.59999999999997" width="1.6" height="1.6" fill="#5a5a5a"/>
<text x="385.9" y="335.29999999999995" font-family="Liberation Serif" font-size="5.4" font-weight="bold" font-style="italic" text-anchor="start" fill="#000" >SNCK KO</text>
<line x1="374.9" y1="341.1" x2="381.4" y2="341.1" stroke="#f69a9a" stroke-width="1.9" />
<rect x="377.4" y="340.3" width="1.6" height="1.6" fill="#5a5a5a"/>
<text x="385.9" y="343.0" font-family="Liberation Serif" font-size="5.4" font-weight="bold" font-style="italic" text-anchor="start" fill="#000" >DKO</text>
<text transform="translate(237.6 344.8) rotate(-90)" font-family="Liberation Serif" font-size="5.55" font-weight="bold">Fluo 4-AM  F<tspan font-size="3.6" dy="1">1</tspan><tspan dy="-1">/F</tspan><tspan font-size="3.6" dy="1">0</tspan><tspan dy="-1"> over time per 10 mg mitochondria</tspan></text>
<line x1="44.2" y1="244.1" x2="44.2" y2="352.3" stroke="#222" stroke-width="1.35" />
<line x1="44.2" y1="352.3" x2="199" y2="352.3" stroke="#222" stroke-width="1.35" />
<line x1="41.2" y1="244.5" x2="44.2" y2="244.5" stroke="#222" stroke-width="0.9" />
<text x="39.900000000000006" y="247.02" font-family="Liberation Sans" font-size="7.0" font-weight="bold" font-style="normal" text-anchor="end" fill="#000" >2.1</text>
<line x1="41.2" y1="266.06" x2="44.2" y2="266.06" stroke="#222" stroke-width="0.9" />
<text x="39.900000000000006" y="268.58" font-family="Liberation Sans" font-size="7.0" font-weight="bold" font-style="normal" text-anchor="end" fill="#000" >2.0</text>
<line x1="41.2" y1="287.62000000000006" x2="44.2" y2="287.62000000000006" stroke="#222" stroke-width="0.9" />
<text x="39.900000000000006" y="290.14000000000004" font-family="Liberation Sans" font-size="7.0" font-weight="bold" font-style="normal" text-anchor="end" fill="#000" >1.9</text>
<line x1="41.2" y1="309.18" x2="44.2" y2="309.18" stroke="#222" stroke-width="0.9" />
<text x="39.900000000000006" y="311.7" font-family="Liberation Sans" font-size="7.0" font-weight="bold" font-style="normal" text-anchor="end" fill="#000" >1.8</text>
<line x1="41.2" y1="330.74" x2="44.2" y2="330.74" stroke="#222" stroke-width="0.9" />
<text x="39.900000000000006" y="333.26" font-family="Liberation Sans" font-size="7.0" font-weight="bold" font-style="normal" text-anchor="end" fill="#000" >1.7</text>
<line x1="41.2" y1="352.3" x2="44.2" y2="352.3" stroke="#222" stroke-width="0.9" />
<text x="39.900000000000006" y="354.82" font-family="Liberation Sans" font-size="7.0" font-weight="bold" font-style="normal" text-anchor="end" fill="#000" >1.6</text>
<circle cx="63.9" cy="277.4" r="2.15" fill="#f2a2e8"/>
<circle cx="63.9" cy="285.5" r="2.15" fill="#f2a2e8"/>
<circle cx="60.7" cy="287.9" r="2.15" fill="#f2a2e8"/>
<circle cx="67.3" cy="292.9" r="2.15" fill="#f2a2e8"/>
<circle cx="63.9" cy="303.1" r="2.15" fill="#f2a2e8"/>
<circle cx="97.9" cy="286.1" r="2.15" fill="#82b2f4"/>
<circle cx="104.3" cy="287.9" r="2.15" fill="#82b2f4"/>
<circle cx="110.9" cy="284.8" r="2.15" fill="#82b2f4"/>
<circle cx="107.7" cy="302.8" r="2.15" fill="#82b2f4"/>
<circle cx="101" cy="308.1" r="2.15" fill="#82b2f4"/>
<circle cx="144.8" cy="315" r="2.15" fill="#a8f0d8"/>
<circle cx="141.4" cy="317.9" r="2.15" fill="#a8f0d8"/>
<circle cx="147.9" cy="322.2" r="2.15" fill="#a8f0d8"/>
<circle cx="147.9" cy="329.3" r="2.15" fill="#a8f0d8"/>
<circle cx="141.4" cy="330.5" r="2.15" fill="#a8f0d8"/>
<circle cx="185.2" cy="308" r="2.15" fill="#f8a2a2"/>
<circle cx="181.9" cy="314.2" r="2.15" fill="#f8a2a2"/>
<circle cx="188.3" cy="319.1" r="2.15" fill="#f8a2a2"/>
<circle cx="191.8" cy="318.5" r="2.15" fill="#f8a2a2"/>
<circle cx="181.9" cy="324.9" r="2.15" fill="#f8a2a2"/>
<line x1="57.1" y1="285.3" x2="70.7" y2="285.3" stroke="#b0b0b0" stroke-width="0.6" />
<line x1="57.1" y1="293.2" x2="70.7" y2="293.2" stroke="#b0b0b0" stroke-width="0.6" />
<line x1="63.900000000000006" y1="285.3" x2="63.900000000000006" y2="293.2" stroke="#b0b0b0" stroke-width="0.6" />
<line x1="97.9" y1="289.4" x2="111.1" y2="289.4" stroke="#b0b0b0" stroke-width="0.6" />
<line x1="97.9" y1="298.4" x2="111.1" y2="298.4" stroke="#b0b0b0" stroke-width="0.6" />
<line x1="104.5" y1="289.4" x2="104.5" y2="298.4" stroke="#b0b0b0" stroke-width="0.6" />
<line x1="138" y1="320.3" x2="151.6" y2="320.3" stroke="#b0b0b0" stroke-width="0.6" />
<line x1="138" y1="326.3" x2="151.6" y2="326.3" stroke="#b0b0b0" stroke-width="0.6" />
<line x1="144.8" y1="320.3" x2="144.8" y2="326.3" stroke="#b0b0b0" stroke-width="0.6" />
<line x1="178.5" y1="314.4" x2="191.8" y2="314.4" stroke="#b0b0b0" stroke-width="0.6" />
<line x1="178.5" y1="319.7" x2="191.8" y2="319.7" stroke="#b0b0b0" stroke-width="0.6" />
<line x1="185.15" y1="314.4" x2="185.15" y2="319.7" stroke="#b0b0b0" stroke-width="0.6" />
<line x1="50.6" y1="289.4" x2="77.5" y2="289.4" stroke="#1a1a1a" stroke-width="1.3" />
<line x1="91" y1="293.9" x2="117.7" y2="293.9" stroke="#333" stroke-width="1.3" />
<line x1="131.2" y1="323.2" x2="158.1" y2="323.2" stroke="#333" stroke-width="1.3" />
<line x1="172" y1="317.3" x2="198.8" y2="317.3" stroke="#333" stroke-width="1.3" />
<text x="64.7" y="363.2" font-family="Liberation Sans" font-size="8.2" font-weight="bold" font-style="italic" text-anchor="middle" fill="#000" >WT</text>
<line x1="64.7" y1="352.3" x2="64.7" y2="354.8" stroke="#222" stroke-width="0.9" />
<text x="104.6" y="363.2" font-family="Liberation Sans" font-size="8.2" font-weight="bold" font-style="italic" text-anchor="middle" fill="#000" >APP KO</text>
<line x1="104.6" y1="352.3" x2="104.6" y2="354.8" stroke="#222" stroke-width="0.9" />
<text x="145.3" y="363.2" font-family="Liberation Sans" font-size="8.2" font-weight="bold" font-style="italic" text-anchor="middle" fill="#000" >SNCA KO</text>
<line x1="145.3" y1="352.3" x2="145.3" y2="354.8" stroke="#222" stroke-width="0.9" />
<text x="185.2" y="363.2" font-family="Liberation Sans" font-size="8.2" font-weight="bold" font-style="italic" text-anchor="middle" fill="#000" >DKO</text>
<line x1="185.2" y1="352.3" x2="185.2" y2="354.8" stroke="#222" stroke-width="0.9" />
<line x1="62.8" y1="238.5" x2="184.9" y2="238.5" stroke="#a8a8a8" stroke-width="0.75" />
<text x="100.5" y="235.0" font-family="Liberation Serif" font-size="7.3" font-style="italic" fill="#3a3a3a" style="stroke:none">p&lt;0.0001</text>
<text x="133.1" y="233.9" font-family="Liberation Sans" font-size="7.2" font-weight="bold" letter-spacing="0.65" fill="#111" style="stroke:none">***</text>
<line x1="62.8" y1="251.1" x2="142.9" y2="251.1" stroke="#a8a8a8" stroke-width="0.75" />
<text x="78.2" y="248.4" font-family="Liberation Serif" font-size="7.3" font-style="italic" fill="#3a3a3a" style="stroke:none">p&lt;0.0001</text>
<text x="110.8" y="247.3" font-family="Liberation Sans" font-size="7.2" font-weight="bold" letter-spacing="0.65" fill="#111" style="stroke:none">***</text>
<line x1="62.1" y1="268.8" x2="106.5" y2="268.8" stroke="#a8a8a8" stroke-width="0.75" />
<text x="62.4" y="267.4" font-family="Liberation Serif" font-size="7.3" font-style="italic" fill="#3a3a3a" style="stroke:none">P=0.4039</text>
<text x="95.9" y="267.4" font-family="Liberation Serif" font-size="7.3" font-style="italic" fill="#3a3a3a" style="stroke:none">n.s.</text>
<line x1="106.8" y1="263.1" x2="185.8" y2="263.1" stroke="#a8a8a8" stroke-width="0.75" />
<text x="126.6" y="261.3" font-family="Liberation Serif" font-size="7.3" font-style="italic" fill="#3a3a3a" style="stroke:none">P=0.0006</text>
<text x="159.1" y="260.2" font-family="Liberation Sans" font-size="7.2" font-weight="bold" letter-spacing="0.65" fill="#111" style="stroke:none">**</text>
<line x1="105.5" y1="279.3" x2="149.7" y2="279.3" stroke="#a8a8a8" stroke-width="0.75" />
<text x="105.5" y="276.8" font-family="Liberation Serif" font-size="7.3" font-style="italic" fill="#3a3a3a" style="stroke:none">p&lt;0.0001</text>
<text x="138.1" y="275.7" font-family="Liberation Sans" font-size="7.2" font-weight="bold" letter-spacing="0.65" fill="#111" style="stroke:none">***</text>
<line x1="143.0" y1="300.4" x2="187.1" y2="300.4" stroke="#a8a8a8" stroke-width="0.75" />
<text x="144.4" y="297.2" font-family="Liberation Serif" font-size="7.3" font-style="italic" fill="#3a3a3a" style="stroke:none">P=0.2758</text>
<text x="176.0" y="297.2" font-family="Liberation Serif" font-size="7.3" font-style="italic" fill="#3a3a3a" style="stroke:none">n.s.</text>
<text x="22.8" y="222.9" font-family="Liberation Serif" font-size="12.5" font-weight="bold" font-style="normal" text-anchor="start" fill="#000" >8 μM</text>
<text transform="translate(9.3 335.3) rotate(-90)" font-family="Liberation Serif" font-size="8.8" font-weight="bold">Fluo 4-AM</text>
<text transform="translate(9.6 282.2) rotate(-90)" font-family="Liberation Serif" font-size="10" font-weight="bold">F<tspan font-size="6.6" dy="1.6">1</tspan><tspan dy="-1.6">/F</tspan><tspan font-size="6.4" dy="1.6">0</tspan></text>
<text transform="translate(21.6 346.8) rotate(-90)" font-family="Liberation Serif" font-size="8.9" font-weight="bold">per 10 mg mitochondrion</text>
<line x1="498.5" y1="235.2" x2="498.5" y2="348.2" stroke="#222" stroke-width="1.35" />
<line x1="498.5" y1="348.2" x2="667.2" y2="348.2" stroke="#222" stroke-width="1.35" />
<line x1="495.5" y1="235.4" x2="498.5" y2="235.4" stroke="#222" stroke-width="0.9" />
<text x="494.2" y="238.388" font-family="Liberation Sans" font-size="8.3" font-weight="bold" font-style="normal" text-anchor="end" fill="#000" >3.5</text>
<line x1="495.5" y1="263.55" x2="498.5" y2="263.55" stroke="#222" stroke-width="0.9" />
<text x="494.2" y="266.538" font-family="Liberation Sans" font-size="8.3" font-weight="bold" font-style="normal" text-anchor="end" fill="#000" >3.0</text>
<line x1="495.5" y1="291.7" x2="498.5" y2="291.7" stroke="#222" stroke-width="0.9" />
<text x="494.2" y="294.688" font-family="Liberation Sans" font-size="8.3" font-weight="bold" font-style="normal" text-anchor="end" fill="#000" >2.5</text>
<line x1="495.5" y1="319.85" x2="498.5" y2="319.85" stroke="#222" stroke-width="0.9" />
<text x="494.2" y="322.838" font-family="Liberation Sans" font-size="8.3" font-weight="bold" font-style="normal" text-anchor="end" fill="#000" >2.0</text>
<line x1="495.5" y1="348.0" x2="498.5" y2="348.0" stroke="#222" stroke-width="0.9" />
<text x="494.2" y="350.988" font-family="Liberation Sans" font-size="8.3" font-weight="bold" font-style="normal" text-anchor="end" fill="#000" >1.5</text>
<circle cx="513.1" cy="287.4" r="2.15" fill="#f2a2e8"/>
<circle cx="516.6" cy="285.9" r="2.15" fill="#f2a2e8"/>
<circle cx="523.4" cy="286.9" r="2.15" fill="#f2a2e8"/>
<circle cx="526.9" cy="291" r="2.15" fill="#f2a2e8"/>
<circle cx="519.9" cy="294.5" r="2.15" fill="#f2a2e8"/>
<circle cx="558.7" cy="269.9" r="2.15" fill="#82b2f4"/>
<circle cx="565.6" cy="275.5" r="2.15" fill="#82b2f4"/>
<circle cx="555.5" cy="282.8" r="2.15" fill="#82b2f4"/>
<circle cx="562.2" cy="285.9" r="2.15" fill="#82b2f4"/>
<circle cx="568.9" cy="285.1" r="2.15" fill="#82b2f4"/>
<circle cx="604.5" cy="297" r="2.15" fill="#a8f0d8"/>
<circle cx="594.3" cy="303.8" r="2.15" fill="#a8f0d8"/>
<circle cx="614.8" cy="303.8" r="2.15" fill="#a8f0d8"/>
<circle cx="601.4" cy="308.7" r="2.15" fill="#a8f0d8"/>
<circle cx="608" cy="306" r="2.15" fill="#a8f0d8"/>
<circle cx="646.9" cy="308.9" r="2.15" fill="#f8a2a2"/>
<circle cx="657.1" cy="309.5" r="2.15" fill="#f8a2a2"/>
<circle cx="636.7" cy="314.9" r="2.15" fill="#f8a2a2"/>
<circle cx="643.4" cy="315.9" r="2.15" fill="#f8a2a2"/>
<circle cx="650.2" cy="315.5" r="2.15" fill="#f8a2a2"/>
<line x1="512.5" y1="287.3" x2="527" y2="287.3" stroke="#b0b0b0" stroke-width="0.6" />
<line x1="512.5" y1="291" x2="527" y2="291" stroke="#b0b0b0" stroke-width="0.6" />
<line x1="519.75" y1="287.3" x2="519.75" y2="291" stroke="#b0b0b0" stroke-width="0.6" />
<line x1="555.5" y1="276.7" x2="568.9" y2="276.7" stroke="#b0b0b0" stroke-width="0.6" />
<line x1="555.5" y1="283.1" x2="568.9" y2="283.1" stroke="#b0b0b0" stroke-width="0.6" />
<line x1="562.2" y1="276.7" x2="562.2" y2="283.1" stroke="#b0b0b0" stroke-width="0.6" />
<line x1="597" y1="302" x2="611" y2="302" stroke="#b0b0b0" stroke-width="0.6" />
<line x1="597" y1="306" x2="611" y2="306" stroke="#b0b0b0" stroke-width="0.6" />
<line x1="604.0" y1="302" x2="604.0" y2="306" stroke="#b0b0b0" stroke-width="0.6" />
<line x1="639" y1="311.5" x2="653" y2="311.5" stroke="#b0b0b0" stroke-width="0.6" />
<line x1="639" y1="314.5" x2="653" y2="314.5" stroke="#b0b0b0" stroke-width="0.6" />
<line x1="646.0" y1="311.5" x2="646.0" y2="314.5" stroke="#b0b0b0" stroke-width="0.6" />
<line x1="505.8" y1="289.2" x2="533.9" y2="289.2" stroke="#1a1a1a" stroke-width="1.3" />
<line x1="548.1" y1="279.9" x2="576.1" y2="279.9" stroke="#333" stroke-width="1.3" />
<line x1="590.3" y1="304" x2="618.9" y2="304" stroke="#333" stroke-width="1.3" />
<line x1="632.9" y1="313.1" x2="660.9" y2="313.1" stroke="#888" stroke-width="1.3" />
<text x="520.7" y="360.0" font-family="Liberation Sans" font-size="8.2" font-weight="bold" font-style="italic" text-anchor="middle" fill="#000" >WT</text>
<line x1="520.7" y1="348.2" x2="520.7" y2="350.7" stroke="#222" stroke-width="0.9" />
<text x="562.3" y="360.0" font-family="Liberation Sans" font-size="8.2" font-weight="bold" font-style="italic" text-anchor="middle" fill="#000" >APP KO</text>
<line x1="562.3" y1="348.2" x2="562.3" y2="350.7" stroke="#222" stroke-width="0.9" />
<text x="604.6" y="360.0" font-family="Liberation Sans" font-size="8.2" font-weight="bold" font-style="italic" text-anchor="middle" fill="#000" >SNCA KO</text>
<line x1="604.6" y1="348.2" x2="604.6" y2="350.7" stroke="#222" stroke-width="0.9" />
<text x="646.5" y="360.0" font-family="Liberation Sans" font-size="8.2" font-weight="bold" font-style="italic" text-anchor="middle" fill="#000" >DKO</text>
<line x1="646.5" y1="348.2" x2="646.5" y2="350.7" stroke="#222" stroke-width="0.9" />
<line x1="518.5" y1="219.3" x2="643.5" y2="219.3" stroke="#a8a8a8" stroke-width="0.75" />
<text x="558.3" y="216.4" font-family="Liberation Serif" font-size="7.55" font-style="italic" fill="#3a3a3a" style="stroke:none">P&lt;0.0001</text>
<text x="592.4" y="215.3" font-family="Liberation Sans" font-size="7.2" font-weight="bold" letter-spacing="0.65" fill="#111" style="stroke:none">***</text>
<line x1="518.5" y1="235.1" x2="602.1" y2="235.1" stroke="#a8a8a8" stroke-width="0.75" />
<text x="535.5" y="232.5" font-family="Liberation Serif" font-size="7.55" font-style="italic" fill="#3a3a3a" style="stroke:none">P=0.0008</text>
<text x="569.8" y="231.4" font-family="Liberation Sans" font-size="7.2" font-weight="bold" letter-spacing="0.65" fill="#111" style="stroke:none">***</text>
<line x1="519.1" y1="257.0" x2="563.0" y2="257.0" stroke="#a8a8a8" stroke-width="0.75" />
<text x="522.8" y="253.9" font-family="Liberation Serif" font-size="7.7" font-style="italic" fill="#3a3a3a" style="stroke:none">P=0.0298</text>
<text x="556.9" y="252.8" font-family="Liberation Sans" font-size="7.2" font-weight="bold" letter-spacing="0.65" fill="#111" style="stroke:none">*</text>
<line x1="565.0" y1="250.3" x2="647.8" y2="250.3" stroke="#a8a8a8" stroke-width="0.75" />
<text x="586.5" y="247.6" font-family="Liberation Serif" font-size="7.6" font-style="italic" fill="#3a3a3a" style="stroke:none">P&lt;0.0001</text>
<text x="620.9" y="246.5" font-family="Liberation Sans" font-size="7.2" font-weight="bold" letter-spacing="0.65" fill="#111" style="stroke:none">***</text>
<line x1="562.4" y1="265.2" x2="604.5" y2="265.2" stroke="#a8a8a8" stroke-width="0.75" />
<text x="560.4" y="264.0" font-family="Liberation Serif" font-size="7.6" font-style="italic" fill="#3a3a3a" style="stroke:none">P&lt;0.0001</text>
<text x="594.3" y="262.9" font-family="Liberation Sans" font-size="7.2" font-weight="bold" letter-spacing="0.65" fill="#111" style="stroke:none">***</text>
<line x1="604.5" y1="288.1" x2="647.8" y2="288.1" stroke="#a8a8a8" stroke-width="0.75" />
<text x="606.6" y="285.4" font-family="Liberation Serif" font-size="7.8" font-style="italic" fill="#3a3a3a" style="stroke:none">P=0.0317</text>
<text x="641.3" y="284.29999999999995" font-family="Liberation Sans" font-size="7.2" font-weight="bold" letter-spacing="0.65" fill="#111" style="stroke:none">*</text>
<text x="477.6" y="213" font-family="Liberation Serif" font-size="12.8" font-weight="bold" font-style="normal" text-anchor="start" fill="#000" >16 μM</text>
<text transform="translate(464 331.1) rotate(-90)" font-family="Liberation Serif" font-size="9.3" font-weight="bold">Fluo 4-AM</text>
<text transform="translate(464 272) rotate(-90)" font-family="Liberation Serif" font-size="9.3" font-weight="bold">F<tspan font-size="6" dy="1.5">1</tspan><tspan dy="-1.5">/F</tspan><tspan font-size="6" dy="1.5">0</tspan></text>
<text transform="translate(474.3 344.3) rotate(-90)" font-family="Liberation Serif" font-size="9.5" font-weight="bold">per 10 mg mitochondrion</text>
</svg>
</body></html>
